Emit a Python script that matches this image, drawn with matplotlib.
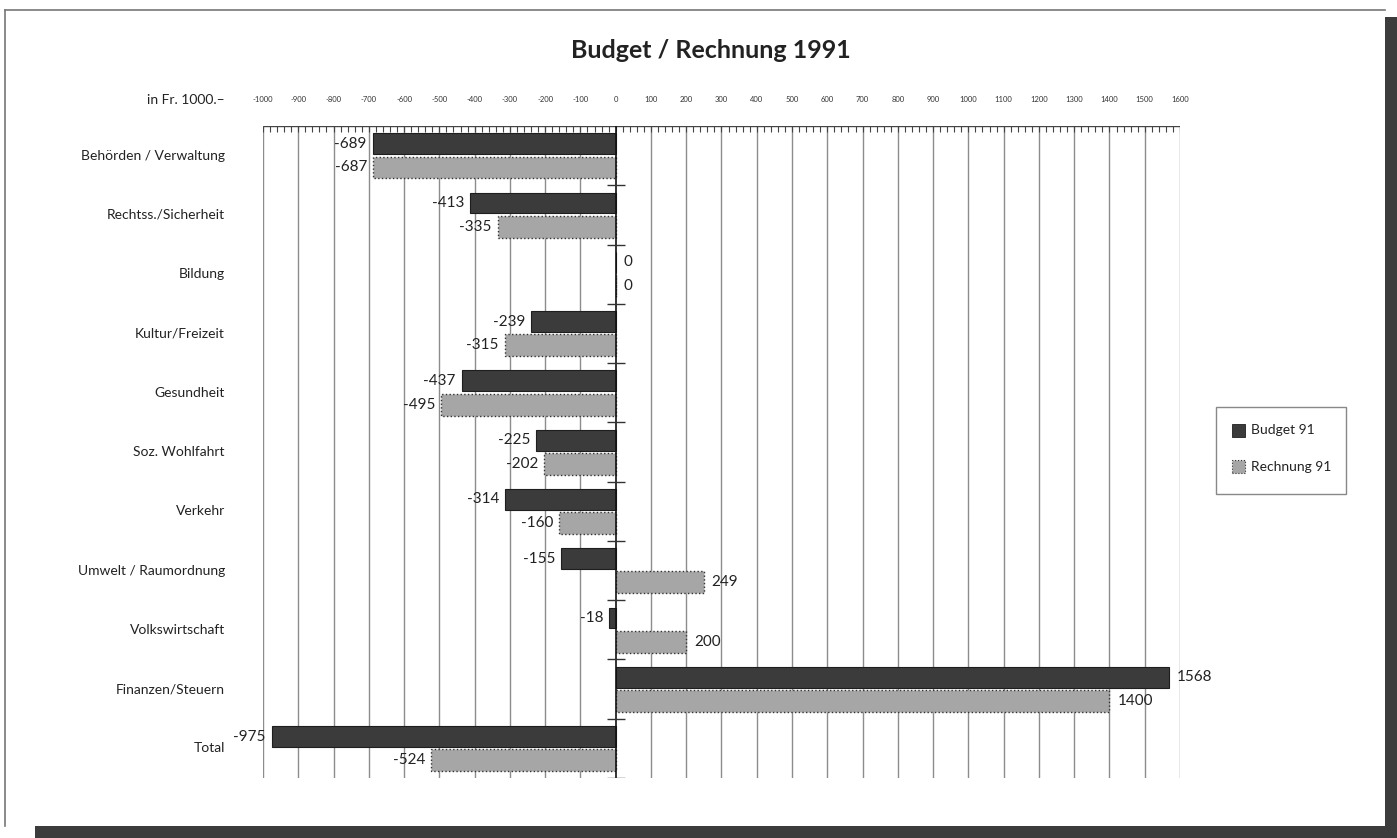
import numpy as np
import matplotlib
matplotlib.use('Agg')
import matplotlib.pyplot as plt
from matplotlib.patches import Rectangle
from matplotlib.lines import Line2D

categories = ['Behörden / Verwaltung', 'Rechtss./Sicherheit', 'Bildung', 'Kultur/Freizeit',
              'Gesundheit', 'Soz. Wohlfahrt', 'Verkehr', 'Umwelt / Raumordnung',
              'Volkswirtschaft', 'Finanzen/Steuern', 'Total']
budget = [-689, -413, 0, -239, -437, -225, -314, -155, -18, 1568, -975]
rechnung = [-687, -335, 0, -315, -495, -202, -160, 249, 200, 1400, -524]
ticks = list(range(-1000, 1700, 100))
minor_ticks = list(range(-1000, 1601, 20))

plt.rcParams['font.family'] = ['Lato', 'DejaVu Sans']

W, H = 1397, 838
fig = plt.figure(figsize=(W / 100, H / 100), dpi=100)
fig.patch.set_facecolor('white')


def fx(px):
    return px / W


def fy(py):
    return 1 - py / H


ax = fig.add_axes([fx(263), fy(778), fx(1180) - fx(263), fy(126) - fy(778)])
ax.set_xlim(-1000, 1600)
ax.set_ylim(11, 0)
ax.axis('off')

# page edge / scan background
fig.add_artist(Line2D([fx(5), fx(5)], [fy(10), fy(826)], color='#777777', lw=1.2))
fig.add_artist(Line2D([fx(5), fx(1385)], [fy(10), fy(10)], color='#777777', lw=1.2))
fig.add_artist(Rectangle((fx(35), 0), 1, fy(826), color='#3c3c3c', lw=0))
fig.add_artist(Rectangle((fx(1385), 0), 1, fy(17), color='#3c3c3c', lw=0))

# grid + ruler
ax.vlines([t for t in ticks if t != 0], -0.17, 11, color='#8c8c8c', lw=1, zorder=1)
ax.vlines(0, -0.17, 11.03, color='#111111', lw=1.2, zorder=4)
ax.hlines(0, -1000, 1600, color='#444444', lw=1, zorder=2)
ax.vlines(minor_ticks, 0, 0.1, color='#444444', lw=0.8, zorder=2)
ax.hlines(range(1, 12), -25, 25, color='#333333', lw=1, zorder=4)
for t in ticks:
    ax.text(t, -0.44, str(t), ha='center', va='center', fontsize=5.5, color='#333333')

y = np.arange(len(categories))
ax.barh(y + 0.30, budget, height=0.35, color='#3b3b3b', edgecolor='#1e1e1e', lw=0.8, zorder=3)
ax.barh(y + 0.70, rechnung, height=0.37, color='#a6a6a6', edgecolor='#333333',
        linestyle=':', lw=1, zorder=3)


def value_label(v, yy):
    if v < 0:
        ax.text(v - 17, yy, str(v), ha='right', va='center', fontsize=11, color='#222222')
    else:
        ax.text(v + 23, yy, str(v), ha='left', va='center', fontsize=11, color='#222222')


for i in range(len(categories)):
    value_label(budget[i], i + 0.30)
    value_label(rechnung[i], i + 0.70)
    ax.text(-1108, i + 0.5, categories[i], ha='right', va='center', fontsize=10, color='#222222')

ax.text(-1108, -0.44, 'in Fr. 1000.–', ha='right', va='center', fontsize=10, color='#222222')

fig.text(fx(711), fy(51), 'Budget / Rechnung 1991', ha='center', va='center',
         fontsize=18, fontweight='bold', color='#222222')

# legend box
fig.add_artist(Rectangle((fx(1216), fy(494)), fx(1346) - fx(1216), fy(407) - fy(494),
                         fill=False, edgecolor='#888888', lw=1))
fig.add_artist(Rectangle((fx(1232), fy(437)), fx(1245) - fx(1232), fy(424) - fy(437),
                         facecolor='#3b3b3b', edgecolor='#1e1e1e', lw=0.6))
fig.add_artist(Rectangle((fx(1232), fy(473)), fx(1245) - fx(1232), fy(460) - fy(473),
                         facecolor='#a6a6a6', edgecolor='#333333', linestyle=':', lw=0.8))
fig.text(fx(1251), fy(430), 'Budget 91', ha='left', va='center', fontsize=10, color='#222222')
fig.text(fx(1251), fy(467), 'Rechnung 91', ha='left', va='center', fontsize=10, color='#222222')

fig.savefig('out.png', dpi=100)
